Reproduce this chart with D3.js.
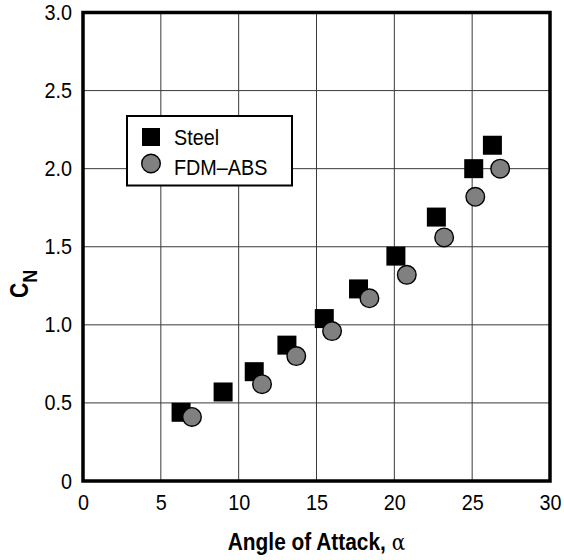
<!DOCTYPE html>
<html>
<head>
<meta charset="utf-8">
<script src="https://cdn.jsdelivr.net/npm/d3@7"></script>
<style>
  html, body { margin: 0; padding: 0; background: #fff; }
  svg text { font-family: "Liberation Sans", Arial, sans-serif; }
</style>
</head>
<body>
<svg id="chart" width="564" height="560"></svg>
<script>
// Normal-force coefficient vs. angle of attack for two model materials
const steelAlpha = [6.3, 9.0, 11.0, 13.1, 15.5, 17.7, 20.1, 22.7, 25.1, 26.3];
const steelCN    = [0.44, 0.57, 0.70, 0.87, 1.04, 1.23, 1.44, 1.69, 2.00, 2.15];
const absAlpha   = [7.0, 11.5, 13.7, 16.0, 18.4, 20.8, 23.2, 25.2, 26.8];
const absCN      = [0.41, 0.62, 0.80, 0.96, 1.17, 1.32, 1.56, 1.82, 2.00];
const xTicks = [0, 5, 10, 15, 20, 25, 30];
const yTicks = [0, 0.5, 1.0, 1.5, 2.0, 2.5, 3.0];
const seriesNames = ["Steel", "FDM\u2013ABS"];

const svg = d3.select("#chart");
const x = d3.scaleLinear().domain([0, 30]).range([83, 550]);
const y = d3.scaleLinear().domain([0, 3]).range([481, 12.5]);

// condensed look: squeeze glyphs horizontally
const tickSX = 0.9;

// grid
const grid = svg.append("g").attr("stroke", "#3a3a3a").attr("stroke-width", 1);
grid.selectAll("line.v").data(xTicks.slice(1, -1)).enter().append("line")
  .attr("x1", d => x(d)).attr("x2", d => x(d))
  .attr("y1", y(0)).attr("y2", y(3));
grid.selectAll("line.h").data(yTicks.slice(1, -1)).enter().append("line")
  .attr("x1", x(0)).attr("x2", x(30))
  .attr("y1", d => y(d)).attr("y2", d => y(d));

// axes (labels only; the frame is drawn separately)
const xAxis = d3.axisBottom(x).tickValues(xTicks).tickSize(0).tickPadding(13)
  .tickFormat(d3.format("d"));
const gx = svg.append("g").attr("transform", `translate(0,${y(0)})`).call(xAxis);
gx.select(".domain").remove();
gx.selectAll("text").attr("font-size", 22).attr("fill", "#000")
  .attr("font-family", "Liberation Sans, Arial, sans-serif")
  .attr("transform", `scale(${tickSX},1)`);

const yAxis = d3.axisLeft(y).tickValues(yTicks).tickSize(0).tickPadding(11)
  .tickFormat(d => d === 0 ? "0" : d3.format(".1f")(d));
const gy = svg.append("g").attr("transform", `translate(${x(0)},0)`).call(yAxis);
gy.select(".domain").remove();
gy.selectAll("text").attr("font-size", 22).attr("fill", "#000")
  .attr("font-family", "Liberation Sans, Arial, sans-serif")
  .attr("x", -11 / tickSX)
  .attr("transform", `scale(${tickSX},1)`);

// squares (steel)
const sq = 19;
svg.append("g").selectAll("rect").data(d3.range(steelAlpha.length)).enter().append("rect")
  .attr("x", i => x(steelAlpha[i]) - sq / 2)
  .attr("y", i => y(steelCN[i]) - sq / 2)
  .attr("width", sq).attr("height", sq)
  .attr("fill", "#000");

// circles (FDM-ABS)
svg.append("g").selectAll("circle").data(d3.range(absAlpha.length)).enter().append("circle")
  .attr("cx", i => x(absAlpha[i]))
  .attr("cy", i => y(absCN[i]))
  .attr("r", 9.3)
  .attr("fill", "#808080").attr("stroke", "#000").attr("stroke-width", 1.4);

// frame
svg.append("rect")
  .attr("x", x(0)).attr("y", y(3))
  .attr("width", x(30) - x(0)).attr("height", y(0) - y(3))
  .attr("fill", "none").attr("stroke", "#000").attr("stroke-width", 3.5);

// legend
const lg = svg.append("g");
lg.append("rect").attr("x", 127).attr("y", 116).attr("width", 165).attr("height", 69.5)
  .attr("fill", "#fff").attr("stroke", "#000").attr("stroke-width", 2);
lg.append("rect").attr("x", 142).attr("y", 128).attr("width", 18).attr("height", 18).attr("fill", "#000");
lg.append("circle").attr("cx", 151).attr("cy", 163.5).attr("r", 9.3)
  .attr("fill", "#808080").attr("stroke", "#000").attr("stroke-width", 1.4);
lg.selectAll("text").data(seriesNames).enter().append("text")
  .attr("transform", (d, i) => `translate(174,${144.5 + i * 30}) scale(0.9,1)`)
  .attr("font-size", 22).attr("fill", "#000").text(d => d);

// axis titles
const xt = svg.append("text")
  .attr("transform", `translate(${(x(0) + x(30)) / 2},550) scale(0.87,1)`)
  .attr("text-anchor", "middle").attr("font-size", 24).attr("fill", "#000");
xt.append("tspan").attr("font-weight", "bold").text("Angle of Attack, ");
xt.append("tspan").attr("font-family", "DejaVu Serif, serif").attr("font-size", 23).text("\u03b1");

const yt = svg.append("text")
  .attr("transform", "translate(28,284) rotate(-90) scale(0.85,1)")
  .attr("text-anchor", "middle").attr("font-size", 25).attr("font-weight", "bold").attr("fill", "#000");
yt.append("tspan").text("C");
yt.append("tspan").attr("font-size", 21).attr("dy", 9).text("N");
</script>
</body>
</html>
